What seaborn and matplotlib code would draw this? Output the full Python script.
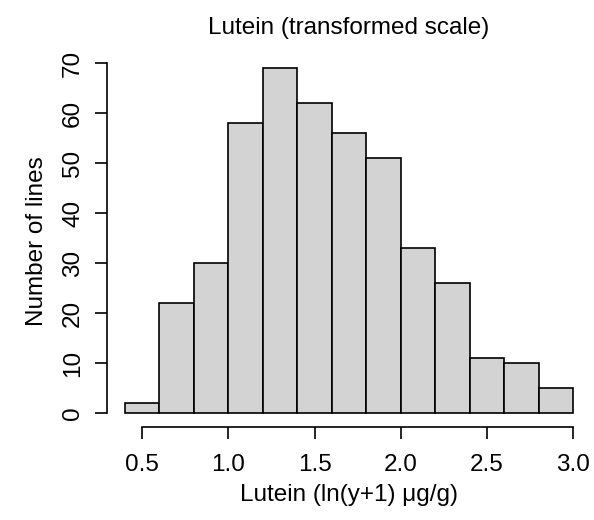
import matplotlib
matplotlib.use("Agg")
import matplotlib.pyplot as plt
import seaborn as sns
import pandas as pd

# Data
bin_edges = [0.4, 0.6, 0.8, 1.0, 1.2, 1.4, 1.6, 1.8, 2.0, 2.2, 2.4, 2.6, 2.8, 3.0]
counts = [2, 22, 30, 58, 69, 62, 56, 51, 33, 26, 11, 10, 5]
x_ticks = [0.5, 1.0, 1.5, 2.0, 2.5, 3.0]
x_tick_labels = ["0.5", "1.0", "1.5", "2.0", "2.5", "3.0"]
y_ticks = [0, 10, 20, 30, 40, 50, 60, 70]
title = "Lutein (transformed scale)"
x_label = "Lutein (ln(y+1) \u03bcg/g)"
y_label = "Number of lines"

centers = [(a + b) / 2 for a, b in zip(bin_edges[:-1], bin_edges[1:])]
df = pd.DataFrame({"lutein": centers, "n": counts})

sns.set_style("white")
plt.rcParams["font.family"] = ["Liberation Sans", "DejaVu Sans"]
plt.rcParams["text.color"] = "black"
plt.rcParams["axes.labelcolor"] = "black"
plt.rcParams["xtick.color"] = "black"
plt.rcParams["ytick.color"] = "black"

FS = 17.5
fig = plt.figure(figsize=(5.94, 5.20), dpi=100)
ax = fig.add_axes([0.1801, 0.1787, 0.9953 - 0.1801, 0.8952 - 0.1787])

sns.histplot(data=df, x="lutein", weights="n", bins=bin_edges, ax=ax,
             color="#D3D3D3", edgecolor="black", linewidth=1.2, alpha=1.0)

xr = bin_edges[-1] - bin_edges[0]
ax.set_xlim(bin_edges[0] - 0.04 * xr, bin_edges[-1] + 0.04 * xr)
ymax = max(counts)
ax.set_ylim(-0.04 * ymax, ymax * 1.04)

ax.spines["top"].set_visible(False)
ax.spines["right"].set_visible(False)
ax.spines["left"].set_bounds(y_ticks[0], y_ticks[-1])
ax.spines["bottom"].set_bounds(x_ticks[0], x_ticks[-1])
for s in ("left", "bottom"):
    ax.spines[s].set_linewidth(1.2)
    ax.spines[s].set_color("black")

ax.set_xticks(x_ticks)
ax.set_xticklabels(x_tick_labels)
ax.set_yticks(y_ticks)
ax.set_yticklabels([str(v) for v in y_ticks], rotation=90, va="center")
ax.tick_params(axis="both", which="major", direction="out", length=8.5, width=1.2,
               color="black", labelcolor="black", labelsize=FS, bottom=True, left=True)
ax.tick_params(axis="x", pad=11)
ax.tick_params(axis="y", pad=8)

ax.set_xlabel(x_label, fontsize=FS, labelpad=6, color="black")
ax.set_ylabel(y_label, fontsize=FS, labelpad=10, color="black")
ax.set_title(title, fontsize=FS, pad=15, color="black")

fig.savefig("out.png", dpi=100)
